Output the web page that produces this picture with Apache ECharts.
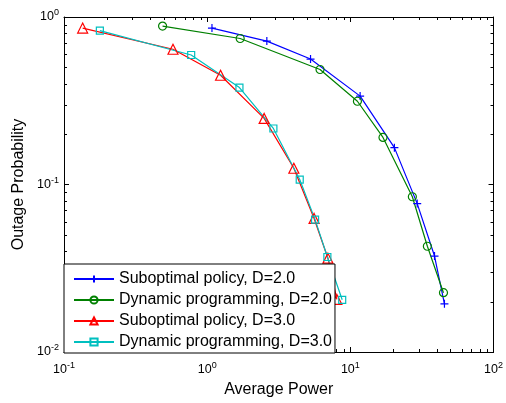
<!DOCTYPE html>
<html>
<head>
<meta charset="utf-8">
<script src="https://cdn.jsdelivr.net/npm/echarts@6/dist/echarts.min.js"></script>
<style>
  html, body { margin: 0; padding: 0; background: #fff; }
  #main { width: 506px; height: 403px; }
</style>
</head>
<body>
<div id="main"></div>
<script>
// series names
var names = [
	'Suboptimal policy, D=2.0',
	'Dynamic programming, D=2.0',
	'Suboptimal policy, D=3.0',
	'Dynamic programming, D=3.0'
];
// average power (x) and outage probability (y)
var subX2 = [1.08, 2.61, 5.27, 11.7, 20.3, 29.3, 38.7, 45.4];
var subY2 = [0.859, 0.718, 0.561, 0.337, 0.166, 0.0769, 0.0374, 0.0194];
var dpX2 = [0.488, 1.70, 6.14, 11.2, 16.9, 27.1, 34.5, 44.7];
var dpY2 = [0.883, 0.744, 0.486, 0.314, 0.191, 0.0845, 0.0428, 0.0226];
var subX3 = [0.135, 0.577, 1.24, 2.50, 4.03, 5.58, 6.97, 8.05];
var subY3 = [0.859, 0.642, 0.449, 0.248, 0.125, 0.0627, 0.0363, 0.0206];
var dpX3 = [0.178, 0.773, 1.68, 2.90, 4.43, 5.67, 6.91, 8.77];
var dpY3 = [0.829, 0.593, 0.379, 0.216, 0.107, 0.0617, 0.0369, 0.0205];
// decade tick labels
var xTickExp = { '0.1': '-1', '1': '0', '10': '1', '100': '2' };
var yTickExp = { '0.01': '-2', '0.1': '-1', '1': '0' };

var colors = ['#0000ff', '#008000', '#ff0000', '#00bfbf'];
var symbols = ['path://M5,0L5,10M0,5L10,5', 'circle', 'triangle', 'rect'];
var sizes = [8, 8, 10, 7];
var fontFam = 'Liberation Sans, Arial, sans-serif';

function zip(xs, ys) {
	var out = [];
	for(var i = 0; i < xs.length; i++) {
		out.push([xs[i], ys[i]]);
	}
	return out;
}

var seriesData = [zip(subX2, subY2), zip(dpX2, dpY2), zip(subX3, subY3), zip(dpX3, dpY3)];

var richLabel = {
	b: { fontSize: 12.5, fontFamily: fontFam, color: '#000' },
	s: { fontSize: 9, fontFamily: fontFam, color: '#000', padding: [0, 0, 8, 0] }
};

var series = [];
for(var j = 0; j < 4; j++) {
	series.push({
		name: names[j],
		type: 'line',
		data: seriesData[j],
		symbol: symbols[j],
		symbolSize: sizes[j],
		showAllSymbol: true,
		animation: false,
		lineStyle: { color: colors[j], width: 1.2 },
		itemStyle: { color: 'transparent', borderColor: colors[j], borderWidth: 1.2 }
	});
}

var myChart = echarts.init(document.getElementById('main'));
var option = {
	animation: false,
	backgroundColor: '#fff',
	grid: { left: 64, right: 7, top: 17, bottom: 42 },
	legend: {
		orient: 'vertical',
		left: 64,
		top: 264,
		itemWidth: 40,
		itemHeight: 9,
		itemGap: 5,
		padding: [7, 3, 3, 9],
		borderColor: '#000',
		borderWidth: 1,
		backgroundColor: '#fff',
		textStyle: { fontSize: 16, fontFamily: fontFam, color: '#000', lineHeight: 16 },
		data: names
	},
	xAxis: [{
		type: 'log',
		logBase: 10,
		min: 0.1,
		max: 100,
		name: 'Average Power',
		nameLocation: 'middle',
		nameGap: 30,
		nameTextStyle: { fontSize: 16, fontFamily: fontFam, color: '#000' },
		axisLine: { lineStyle: { color: '#000', width: 1 } },
		axisTick: { inside: true, length: 5, lineStyle: { color: '#000' } },
		splitLine: { show: false },
		axisLabel: {
			margin: 9,
			formatter: function(v) {
				return '{b|10}{s|' + xTickExp[String(+v.toPrecision(3))] + '}';
			},
			rich: richLabel
		}
	}, {
		type: 'log',
		logBase: 10,
		min: 0.1,
		max: 100,
		position: 'top',
		axisLine: { lineStyle: { color: '#000', width: 1 } },
		axisTick: { inside: true, length: 5, lineStyle: { color: '#000' } },
		axisLabel: { show: false },
		splitLine: { show: false }
	}],
	yAxis: [{
		type: 'log',
		logBase: 10,
		min: 0.01,
		max: 1,
		name: 'Outage Probability',
		nameLocation: 'middle',
		nameGap: 37,
		nameTextStyle: { fontSize: 16, fontFamily: fontFam, color: '#000' },
		axisLine: { lineStyle: { color: '#000', width: 1 } },
		axisTick: { inside: true, length: 5, lineStyle: { color: '#000' } },
		splitLine: { show: false },
		axisLabel: {
			margin: 5,
			formatter: function(v) {
				return '{b|10}{s|' + yTickExp[String(+v.toPrecision(3))] + '}';
			},
			rich: richLabel
		}
	}, {
		type: 'log',
		logBase: 10,
		min: 0.01,
		max: 1,
		position: 'right',
		axisLine: { lineStyle: { color: '#000', width: 1 } },
		axisTick: { inside: true, length: 5, lineStyle: { color: '#000' } },
		axisLabel: { show: false },
		splitLine: { show: false }
	}],
	series: series
};
myChart.setOption(option);

// minor ticks at 2..9 of each decade, placed through the axis scales
function addMinorTicks() {
	var els = [];
	var left = myChart.convertToPixel({ xAxisIndex: 0 }, 0.1);
	var right = myChart.convertToPixel({ xAxisIndex: 0 }, 100);
	var bottom = myChart.convertToPixel({ yAxisIndex: 0 }, 0.01);
	var top = myChart.convertToPixel({ yAxisIndex: 0 }, 1);
	var len = 3;
	for(var d = -1; d < 2; d++) {
		for(var k = 2; k < 10; k++) {
			var px = Math.round(myChart.convertToPixel({ xAxisIndex: 0 }, k * Math.pow(10, d))) + 0.5;
			els.push({ type: 'line', silent: true, shape: { x1: px, y1: bottom, x2: px, y2: bottom - len }, style: { stroke: '#000', lineWidth: 1 } });
			els.push({ type: 'line', silent: true, shape: { x1: px, y1: top, x2: px, y2: top + len }, style: { stroke: '#000', lineWidth: 1 } });
		}
	}
	for(var d2 = -2; d2 < 0; d2++) {
		for(var k2 = 2; k2 < 10; k2++) {
			var py = Math.round(myChart.convertToPixel({ yAxisIndex: 0 }, k2 * Math.pow(10, d2))) + 0.5;
			els.push({ type: 'line', silent: true, shape: { x1: left, y1: py, x2: left + len, y2: py }, style: { stroke: '#000', lineWidth: 1 } });
			els.push({ type: 'line', silent: true, shape: { x1: right, y1: py, x2: right - len, y2: py }, style: { stroke: '#000', lineWidth: 1 } });
		}
	}
	myChart.setOption({ graphic: els });
}
addMinorTicks();
</script>
</body>
</html>
